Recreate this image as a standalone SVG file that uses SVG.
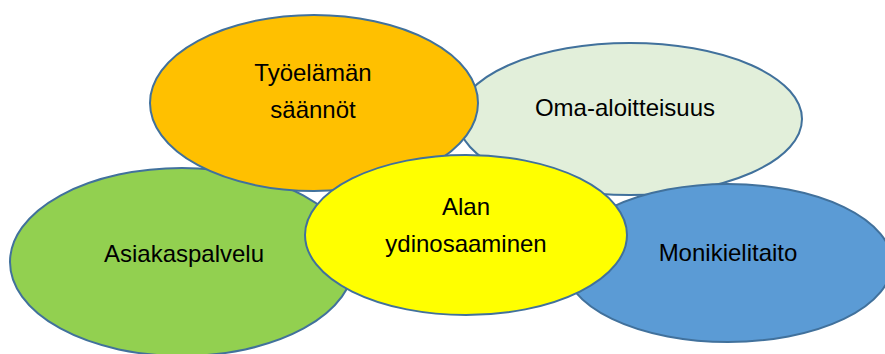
<svg xmlns="http://www.w3.org/2000/svg" width="885" height="354" viewBox="0 0 885 354">
<style>
.e{stroke:#41719C;stroke-width:2}
.t{font-family:"Liberation Sans",Arial,sans-serif;font-size:24px;fill:#000;text-anchor:middle}
</style>
<rect width="885" height="354" fill="#fff"/>
<g id="oma">
<ellipse class="e" cx="630" cy="119" rx="172" ry="76" fill="#E2EFDA"/>
<text class="t" x="625" y="116">Oma-aloitteisuus</text>
</g>
<g id="asiakaspalvelu">
<ellipse class="e" cx="182" cy="262" rx="172" ry="94" fill="#92D050"/>
<text class="t" x="184" y="262">Asiakaspalvelu</text>
</g>
<g id="tyoelaman">
<ellipse class="e" cx="314" cy="103" rx="164" ry="88" fill="#FFC000"/>
<text class="t" x="313" y="81">Työelämän</text>
<text class="t" x="313" y="118">säännöt</text>
</g>
<g id="monikielitaito">
<ellipse class="e" cx="728" cy="263" rx="164" ry="79" fill="#5B9BD5"/>
<text class="t" x="728" y="261">Monikielitaito</text>
</g>
<g id="alan">
<ellipse class="e" cx="466" cy="235" rx="161" ry="80" fill="#FFFF00"/>
<text class="t" x="466" y="215">Alan</text>
<text class="t" x="466" y="252">ydinosaaminen</text>
</g>
<g id="connectors"></g>
</svg>
